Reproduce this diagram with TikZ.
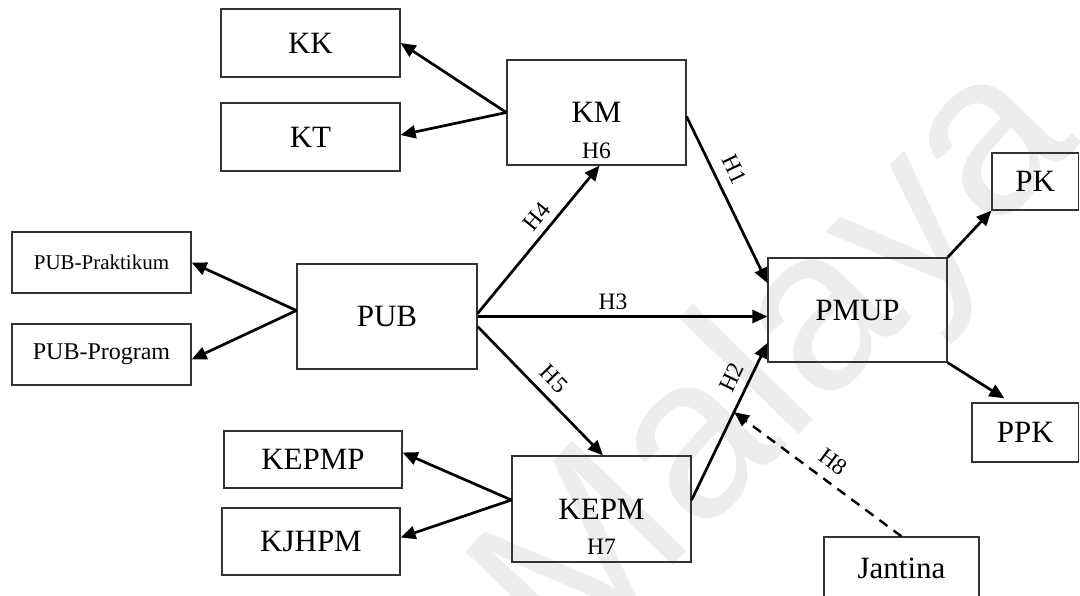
\documentclass[tikz,border=0pt]{standalone}
\usepackage{fontspec}
\setmainfont{Liberation Serif}
\newfontfamily\wmfont{Liberation Sans}
\usetikzlibrary{arrows.meta,calc}

\begin{document}
\begin{tikzpicture}[x=1pt,y=-1pt,
  box/.style={draw=black!80, line width=1.2pt, inner sep=0pt,
    font=\fontsize{31}{36}\selectfont},
  small/.style={font=\fontsize{#1}{#1}\selectfont},
  arr/.style={line width=2.7pt, -{Triangle[length=15pt,width=13pt]}},
  dasharr/.style={arr, line width=2.4pt, dash pattern=on 10pt off 7.5pt},
  hyp/.style={font=\fontsize{23.5}{28}\selectfont, inner sep=0pt, sloped},
  inbox/.style={font=\fontsize{23.5}{28}\selectfont, inner sep=0pt},
]
\useasboundingbox (0,0) rectangle (1080,595);
\clip (0,0) rectangle (1080,595);
\fill[white] (0,0) rectangle (1080,595);

% faint background watermark
\node[rotate=46, anchor=base east, text=black!7, inner sep=0pt,
  font=\wmfont\fontsize{230}{230}\selectfont] (wm) at (1082,142) {Universiti Malaya};

% boxes
\node[box, minimum width=179pt, minimum height=68pt]  (KK)      at (310.5,43)   {KK};
\node[box, minimum width=179pt, minimum height=68pt]  (KT)      at (310.5,137)  {KT};
\node[box, minimum width=179pt, minimum height=105pt] (KM)      at (596.5,112.5) {KM};
\node[inbox, anchor=center] (H6) at ([yshift=15pt]KM.south) {H6};

\node[box, small=21, minimum width=179pt, minimum height=61pt] (PUBPrak) at (101.5,262.5) {PUB-Praktikum};
\node[box, small=24, minimum width=179pt, minimum height=61pt] (PUBProg) at (101.5,354.5) {PUB-Program};
\node[box, minimum width=180pt, minimum height=105pt] (PUB)     at (387,316.5)  {PUB};

\node[box, minimum width=179pt, minimum height=104pt] (PMUP)    at (857.5,310)  {PMUP};
\node[box, minimum width=86.5pt, minimum height=57pt] (PK)      at (1035.25,181.5) {PK};
\node[box, minimum width=106.5pt, minimum height=59pt] (PPK)    at (1025.25,432.5) {PPK};

\node[box, minimum width=178pt, minimum height=57pt]  (KEPMP)   at (313,459.5)  {KEPMP};
\node[box, minimum width=178pt, minimum height=67pt]  (KJHPM)   at (311,541.5)  {KJHPM};
\node[box, minimum width=179pt, minimum height=106pt] (KEPM)    at (601.5,509)  {KEPM};
\node[inbox, anchor=center] (H7) at ([yshift=16pt]KEPM.south) {H7};

\node[box, minimum width=155pt, minimum height=63pt]  (Jantina) at (901.5,568.5) {Jantina};

% indicator arrows
\draw[arr] (KM.west) -- (KK.east);
\draw[arr] (KM.west) -- ([yshift=2pt]KT.east);
\draw[arr] ([yshift=6pt]PUB.west) -- (PUBPrak.east);
\draw[arr] ([yshift=6pt]PUB.west) -- ([yshift=-5pt]PUBProg.east);
\draw[arr] ([yshift=9pt]KEPM.west) -- ([yshift=7pt]KEPMP.east);
\draw[arr] ([yshift=9pt]KEPM.west) -- ([yshift=4pt]KJHPM.east);
\draw[arr] (PMUP.north east) -- (PK.south west);
\draw[arr] (PMUP.south east) -- ([xshift=33pt,yshift=4pt]PPK.north west);

% hypothesis paths
\draw[arr] ([yshift=3pt]PUB.east) -- ([xshift=3pt]KM.south)
  node[hyp, pos=0.588, above=7pt] {H4};
\draw[arr] (PUB.east) -- ([yshift=-6.5pt]PMUP.west)
  node[hyp, pos=0.467, above=5pt] {H3};
\draw[arr] ([yshift=-10pt]PUB.east) -- ([xshift=1.5pt]KEPM.north)
  node[hyp, pos=0.505, above=9pt] {H5};
\draw[arr] ([yshift=-4pt]KM.east) -- ([yshift=27pt]PMUP.west)
  node[hyp, pos=0.37, above=11pt] {H1};
\draw[arr] ([yshift=9pt]KEPM.east) -- ([yshift=-33pt]PMUP.west)
  node[hyp, pos=0.732, above=8pt] {H2};
\coordinate (mod) at ($([yshift=9pt]KEPM.east)!0.56!([yshift=-33pt]PMUP.west)$);
\draw[dasharr] (Jantina.north) -- (mod)
  node[hyp, pos=0.475, above=10pt] {H8};
\end{tikzpicture}
\end{document}
